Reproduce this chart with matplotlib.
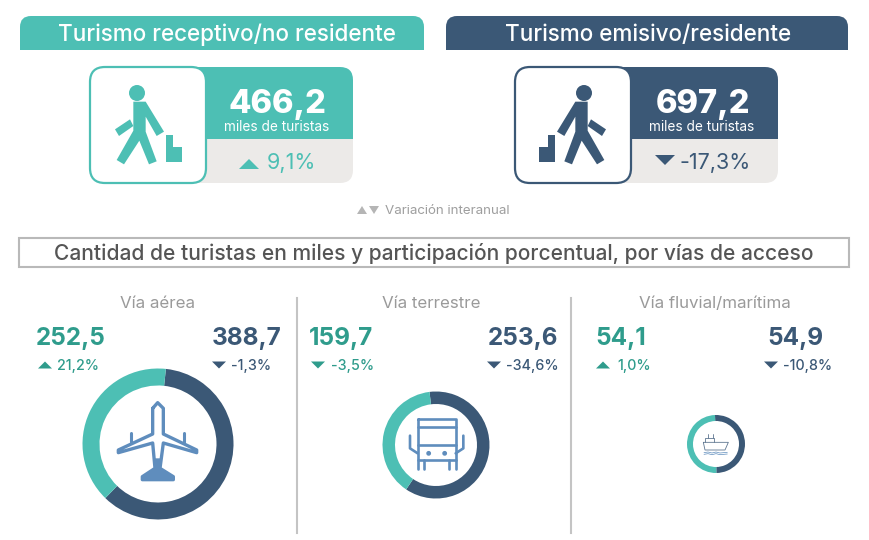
import matplotlib
matplotlib.use("Agg")
import matplotlib.pyplot as plt
from matplotlib.path import Path
from matplotlib.patches import PathPatch, Circle, Rectangle

plt.rcParams['font.family'] = ['Inter', 'Lato', 'DejaVu Sans']

TEAL = "#4DBFB4"
TEAL_TXT = "#2F9C8C"
DARK = "#3B5876"
GREY = "#ECEAE8"
ICON = "#5F8DBD"

# Data
header_labels = ["Turismo receptivo/no residente", "Turismo emisivo/residente"]
total_values = ["466,2", "697,2"]
total_changes = ["9,1%", "-17,3%"]
total_up = [True, False]

route_names = ["Vía aérea", "Vía terrestre", "Vía fluvial/marítima"]
receptivo = [252.5, 159.7, 54.1]
emisivo = [388.7, 253.6, 54.9]
receptivo_var = ["21,2%", "-3,5%", "1,0%"]
emisivo_var = ["-1,3%", "-34,6%", "-10,8%"]
receptivo_up = [True, False, True]
emisivo_up = [False, False, False]


def rounded(x0, y0, x1, y1, tl=0, tr=0, br=0, bl=0):
    verts = [(x0 + tl, y0), (x1 - tr, y0), (x1, y0), (x1, y0 + tr),
             (x1, y1 - br), (x1, y1), (x1 - br, y1),
             (x0 + bl, y1), (x0, y1), (x0, y1 - bl),
             (x0, y0 + tl), (x0, y0), (x0 + tl, y0), (x0 + tl, y0)]
    codes = [Path.MOVETO, Path.LINETO, Path.CURVE3, Path.CURVE3,
             Path.LINETO, Path.CURVE3, Path.CURVE3,
             Path.LINETO, Path.CURVE3, Path.CURVE3,
             Path.LINETO, Path.CURVE3, Path.CURVE3, Path.CLOSEPOLY]
    return Path(verts, codes)


def add_box(path, face, edge="none", lw=0, z=1):
    ax.add_patch(PathPatch(path, facecolor=face, edgecolor=edge, linewidth=lw, zorder=z))


def triangle(x, y, up, w, h, color):
    if up:
        ax.fill([x - w / 2, x + w / 2, x], [y + h / 2, y + h / 2, y - h / 2], color=color, lw=0, zorder=4)
    else:
        ax.fill([x - w / 2, x + w / 2, x], [y - h / 2, y - h / 2, y + h / 2], color=color, lw=0, zorder=4)


def poly(points, color, mirror=None, ox=0, oy=285):
    # icon outlines were traced on a 3x crop
    xs = [ox + p[0] / 3 for p in points]
    ys = [oy + p[1] / 3 for p in points]
    if mirror is not None:
        xs = [mirror - x for x in xs]
    ax.fill(xs, ys, color=color, lw=0, zorder=4)


def stroke(points, ox, oy=285, lw=1.8, closed=False, color=ICON):
    xs = [ox + p[0] / 3 for p in points]
    ys = [oy + p[1] / 3 for p in points]
    if closed:
        xs.append(xs[0])
        ys.append(ys[0])
    ax.plot(xs, ys, color=color, lw=lw, solid_joinstyle="round", solid_capstyle="round", zorder=4)


def walker(color, mirror=None):
    body = [(400, 305), (437, 305), (492, 395), (470, 408), (437, 350), (437, 395),
            (470, 484), (447, 493), (418, 422), (372, 493), (350, 480), (400, 392)]
    arm = [(345, 388), (390, 358), (400, 378), (357, 408)]
    box = [(497, 405), (520, 405), (520, 440), (545, 440), (545, 487), (497, 487)]
    poly(body, color, mirror, oy=0)
    poly(arm, color, mirror, oy=0)
    poly(box, color, mirror, oy=0)
    hx = 137 if mirror is None else mirror - 137
    ax.add_patch(Circle((hx, 93), 8, color=color, lw=0, zorder=4))


fig = plt.figure(figsize=(8.7, 5.4), dpi=100)
ax = fig.add_axes([0, 0, 1, 1])
ax.set_xlim(0, 870)
ax.set_ylim(540, 0)
ax.axis("off")

# Top headers and cards
header_x = [(20, 424), (446, 848)]
header_text_x = [227, 648]
card_x = [(90, 206, 353), (515, 631, 778)]
card_colors = [TEAL, DARK]
for i in range(2):
    x0, x1 = header_x[i]
    add_box(rounded(x0, 16, x1, 50, tl=11, tr=11), card_colors[i])
    ax.text(header_text_x[i], 34.5, header_labels[i], color="white", fontsize=16.2,
            ha="center", va="center", fontweight="medium", zorder=3)

    cx0, cx1, cx2 = card_x[i]
    add_box(rounded(cx0 + 60, 139, cx2, 183, br=13), GREY, z=1)
    add_box(rounded(cx0 + 60, 67, cx2, 139, tr=13), card_colors[i], z=1)
    add_box(rounded(cx0, 67, cx1, 183, 15, 15, 15, 15), "white", card_colors[i], 1.6, z=2)
    mid = (cx1 + cx2) / 2
    ax.text(mid - 2 + i, 104, total_values[i], color="white", fontsize=23.5, fontweight="heavy",
            ha="center", va="center", zorder=3)
    ax.text(mid - 3, 127, "miles de turistas", color="white", fontsize=9.8, ha="center", va="center", zorder=3)

walker(TEAL)
walker(DARK, mirror=721)

triangle(249, 164, total_up[0], 20, 10, TEAL)
ax.text(267, 163, total_changes[0], color=TEAL, fontsize=15.5, ha="left", va="center", zorder=3)
triangle(665, 160, total_up[1], 20, 10, DARK)
ax.text(680, 163, total_changes[1], color=DARK, fontsize=15.5, ha="left", va="center", zorder=3)

# Interannual legend
triangle(362, 210, True, 10, 8, "#B5B5B5")
triangle(374, 210, False, 10, 8, "#B5B5B5")
ax.text(385, 211, "Variación interanual", color="#9E9E9E", fontsize=9.6, ha="left", va="center")

# Section title
ax.add_patch(Rectangle((19, 238), 830, 29, facecolor="white", edgecolor="#B9B9B9", linewidth=1.5))
ax.text(434, 253, "Cantidad de turistas en miles y participación porcentual, por vías de acceso",
        color="#555555", fontsize=15.1, fontweight="medium", ha="center", va="center")

# Separators
for x in [297, 571]:
    ax.plot([x, x], [298, 533], color="#C4C4C4", lw=1.5)

# Route columns
name_x = [158, 431, 715]
rec_x = [71, 341, 621]
emi_x = [247, 523, 795]
rec_text_x = [57, 331, 617]
rec_tri_x = [45, 318, 603]
emi_text_x = [231, 506, 783]
emi_tri_x = [219, 494, 771]
for i in range(3):
    ax.text(name_x[i], 303, route_names[i], color="#9A9A9A", fontsize=12.2, ha="center", va="center")
    ax.text(rec_x[i], 339, f"{receptivo[i]:.1f}".replace(".", ","), color=TEAL_TXT, fontsize=17.5,
            fontweight="bold", ha="center", va="center")
    ax.text(emi_x[i], 339, f"{emisivo[i]:.1f}".replace(".", ","), color=DARK, fontsize=17.5,
            fontweight="bold", ha="center", va="center")
    triangle(rec_tri_x[i], 365, receptivo_up[i], 14, 7, TEAL_TXT)
    ax.text(rec_text_x[i], 366, receptivo_var[i], color=TEAL_TXT, fontsize=10.3, fontweight="medium",
            ha="left", va="center")
    triangle(emi_tri_x[i], 365, emisivo_up[i], 14, 7, DARK)
    ax.text(emi_text_x[i], 366, emisivo_var[i], color=DARK, fontsize=10.3, fontweight="medium",
            ha="left", va="center")

# Donuts, sized by total tourists
donut_cx = [158, 436, 716]
donut_cy = [444, 445, 444]
donut_r = [75.5, 53.5, 29]
donut_w = [17, 12.5, 6]
donut_start = [84, 97, 92]
for i in range(3):
    r = donut_r[i]
    dax = fig.add_axes([(donut_cx[i] - r) / 870, 1 - (donut_cy[i] + r) / 540, 2 * r / 870, 2 * r / 540])
    dax.pie([emisivo[i], receptivo[i]], colors=[DARK, TEAL], startangle=donut_start[i], counterclock=False,
            radius=1, wedgeprops=dict(width=donut_w[i] / r, linewidth=0))
    dax.set_xlim(-1, 1)
    dax.set_ylim(-1, 1)

# Plane icon
plane = [(458, 370), (473, 353), (490, 370), (490, 447), (590, 495), (590, 503), (490, 474),
         (480, 550), (520, 575), (520, 584), (427, 584), (427, 575), (465, 550), (458, 474),
         (355, 503), (355, 495), (458, 447)]
stroke(plane, 0, closed=True, lw=2.4)
stroke([(392, 445), (392, 470)], 0, lw=2.2)
stroke([(553, 445), (553, 470)], 0, lw=2.2)
poly([(465, 520), (480, 520), (482, 550), (520, 575), (520, 584), (427, 584), (427, 575), (463, 550)], ICON)

# Truck icon
tx = 295
stroke([(368, 402), (482, 402), (482, 525), (368, 525)], tx, closed=True, lw=1.9)
stroke([(368, 427), (482, 427)], tx, lw=1.9)
stroke([(368, 480), (482, 480)], tx, lw=1.9)
stroke([(345, 452), (345, 490), (368, 505)], tx, lw=1.9)
stroke([(505, 452), (505, 490), (482, 505)], tx, lw=1.9)
stroke([(368, 525), (368, 551)], tx, lw=1.9)
stroke([(388, 525), (388, 551)], tx, lw=1.9)
stroke([(462, 525), (462, 551)], tx, lw=1.9)
stroke([(482, 525), (482, 551)], tx, lw=1.9)
for dot_x in [401, 449]:
    ax.add_patch(Circle((tx + dot_x / 3, 285 + 505 / 3), 2.4, color=ICON, lw=0, zorder=4))

# Ship icon
sx = 570
ship_color = "#5E7690"
stroke([(400, 472), (475, 472), (465, 495), (405, 495)], sx, closed=True, lw=0.6, color=ship_color)
stroke([(404, 472), (404, 460), (432, 460), (432, 472)], sx, lw=0.6, color=ship_color)
stroke([(413, 460), (413, 448)], sx, lw=0.6, color=ship_color)
stroke([(430, 460), (430, 448)], sx, lw=0.6, color=ship_color)
stroke([(402, 503), (414, 501), (426, 504), (438, 501), (450, 504), (472, 502)], sx, lw=0.5)
stroke([(402, 508), (414, 506), (426, 509), (438, 506), (450, 509), (472, 507)], sx, lw=0.5)

fig.savefig("out.png", dpi=100)
plt.close()
